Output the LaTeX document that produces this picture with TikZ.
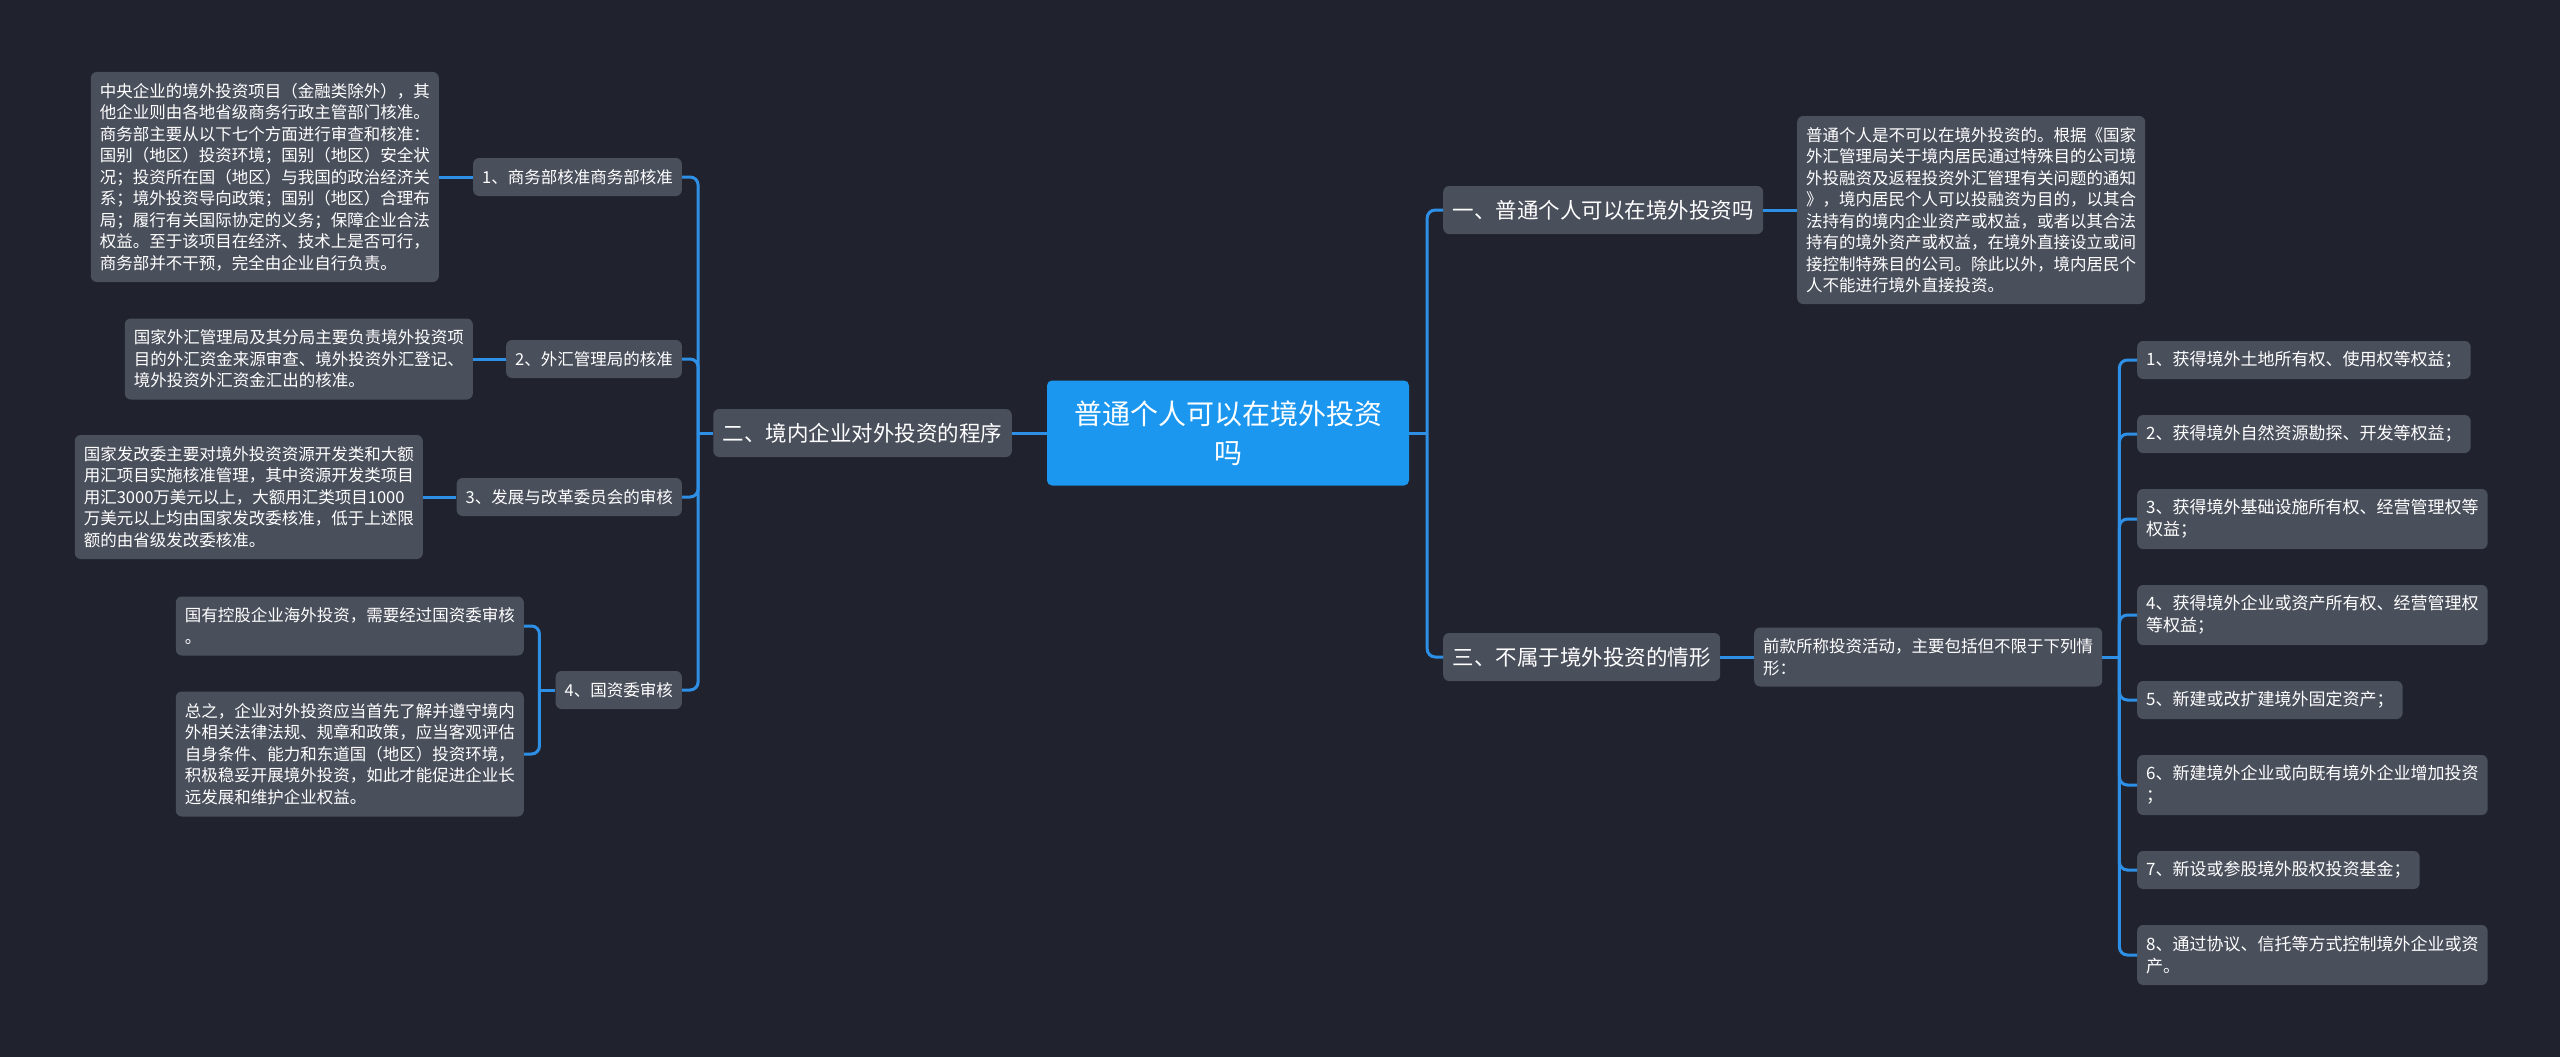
\documentclass[tikz,border=0pt]{standalone}
\usepackage{fontspec}
\setmainfont{Noto Sans CJK SC}
\usepackage{tikz}
\usetikzlibrary{positioning}
\definecolor{bgcolor}{HTML}{20232D}
\definecolor{boxgray}{HTML}{4A4F5C}
\definecolor{linkblue}{HTML}{2E8FE6}
\definecolor{rootblue}{HTML}{1B97F0}

\begin{document}
\begin{tikzpicture}[
    x=1pt, y=-1pt,
    root/.style={rounded corners=5pt, fill=rootblue, text=white, align=center, minimum width=362pt, minimum height=105pt, font=\fontsize{28}{39}\selectfont},
    topic/.style={rounded corners=6pt, fill=boxgray, text=white, inner xsep=9.5pt, inner ysep=0pt, minimum height=48pt, font=\fontsize{21.5}{28}\selectfont},
    note/.style={rounded corners=6pt, fill=boxgray, text=white, align=left, inner xsep=9pt, inner ysep=0pt, minimum height=38pt, font=\fontsize{16.5}{21.5}\selectfont},
    item/.style={note, font=\fontsize{17}{22}\selectfont},
    link/.style={draw=linkblue, line width=3pt, rounded corners=8pt}
]

\fill[bgcolor] (0,0) rectangle (2560,1057);
\useasboundingbox (0,0) rectangle (2560,1057);

% ----- Root -----
\node[root] (Root) at (1228,433) {普通个人可以在境外投资\\吗};

% ----- Left branch -----
\node[topic, anchor=east] (T2) at (1012,433) {二、境内企业对外投资的程序};

\node[note, anchor=east] (S1) at (682,177) {1、商务部核准商务部核准};
\node[note, anchor=east] (S2) at (682,359) {2、外汇管理局的核准};
\node[note, anchor=east] (S3) at (682,497) {3、发展与改革委员会的审核};
\node[note, anchor=east] (S4) at (682,690) {4、国资委审核};

\node[note, anchor=east, minimum height=210pt] (D1) at (439,177) {中央企业的境外投资项目（金融类除外），其\\他企业则由各地省级商务行政主管部门核准。\\商务部主要从以下七个方面进行审查和核准：\\国别（地区）投资环境；国别（地区）安全状\\况；投资所在国（地区）与我国的政治经济关\\系；境外投资导向政策；国别（地区）合理布\\局；履行有关国际协定的义务；保障企业合法\\权益。至于该项目在经济、技术上是否可行，\\商务部并不干预，完全由企业自行负责。};
\node[note, anchor=east, minimum height=81pt] (D2) at (473,359) {国家外汇管理局及其分局主要负责境外投资项\\目的外汇资金来源审查、境外投资外汇登记、\\境外投资外汇资金汇出的核准。};
\node[note, anchor=east, minimum height=124pt] (D3) at (423,497) {国家发改委主要对境外投资资源开发类和大额\\用汇项目实施核准管理，其中资源开发类项目\\用汇3000万美元以上，大额用汇类项目1000\\万美元以上均由国家发改委核准，低于上述限\\额的由省级发改委核准。};
\node[note, anchor=east, minimum height=59pt] (D4a) at (524,626) {国有控股企业海外投资，需要经过国资委审核\\。};
\node[note, anchor=east, minimum height=125pt] (D4b) at (524,754) {总之，企业对外投资应当首先了解并遵守境内\\外相关法律法规、规章和政策，应当客观评估\\自身条件、能力和东道国（地区）投资环境，\\积极稳妥开展境外投资，如此才能促进企业长\\远发展和维护企业权益。};

% ----- Right branch -----
\node[topic, anchor=west] (T1) at (1443,210) {一、普通个人可以在境外投资吗};
\node[topic, anchor=west] (T3) at (1443,657) {三、不属于境外投资的情形};

\node[note, anchor=west, minimum height=188pt] (P1) at (1797,210) {普通个人是不可以在境外投资的。根据《国家\\外汇管理局关于境内居民通过特殊目的公司境\\外投融资及返程投资外汇管理有关问题的通知\\》，境内居民个人可以投融资为目的，以其合\\法持有的境内企业资产或权益，或者以其合法\\持有的境外资产或权益，在境外直接设立或间\\接控制特殊目的公司。除此以外，境内居民个\\人不能进行境外直接投资。};
\node[note, anchor=west, minimum height=59pt] (P3) at (1754,657) {前款所称投资活动，主要包括但不限于下列情\\形：};

\foreach \y/\h/\txt [count=\i] in {
    360/38/{1、获得境外土地所有权、使用权等权益；},
    434/38/{2、获得境外自然资源勘探、开发等权益；},
    519/60/{3、获得境外基础设施所有权、经营管理权等\\权益；},
    615/60/{4、获得境外企业或资产所有权、经营管理权\\等权益；},
    700/38/{5、新建或改扩建境外固定资产；},
    785/60/{6、新建境外企业或向既有境外企业增加投资\\；},
    870/38/{7、新设或参股境外股权投资基金；},
    955/60/{8、通过协议、信托等方式控制境外企业或资\\产。}}{
    \node[item, anchor=west, minimum height=\h pt] (L\i) at (2137,\y) {\txt};
}

% ----- Connections -----
\draw[link] (Root.west) -- (T2.east);
\coordinate (RB) at ([xshift=18pt]Root.east);
\draw[link] (Root.east) -- (RB);
\foreach \n in {T1,T3}{
    \draw[link] (RB) |- (\n.west);
}

\coordinate (LB) at ([xshift=-15pt]T2.west);
\draw[link] (T2.west) -- (LB);
\foreach \n in {S1,S2,S3,S4}{
    \draw[link] (LB) |- (\n.east);
}

\draw[link] (S1.west) -- (D1.east);
\draw[link] (S2.west) -- (D2.east);
\draw[link] (S3.west) -- (D3.east);
\coordinate (SB) at ([xshift=-16pt]S4.west);
\draw[link] (S4.west) -- (SB);
\foreach \n in {D4a,D4b}{
    \draw[link] (SB) |- (\n.east);
}

\draw[link] (T1.east) -- (P1.west);
\draw[link] (T3.east) -- (P3.west);
\coordinate (PB) at ([xshift=17pt]P3.east);
\draw[link] (P3.east) -- (PB);
\foreach \i in {1,...,8}{
    \draw[link] (PB) |- (L\i.west);
}

\end{tikzpicture}
\end{document}
